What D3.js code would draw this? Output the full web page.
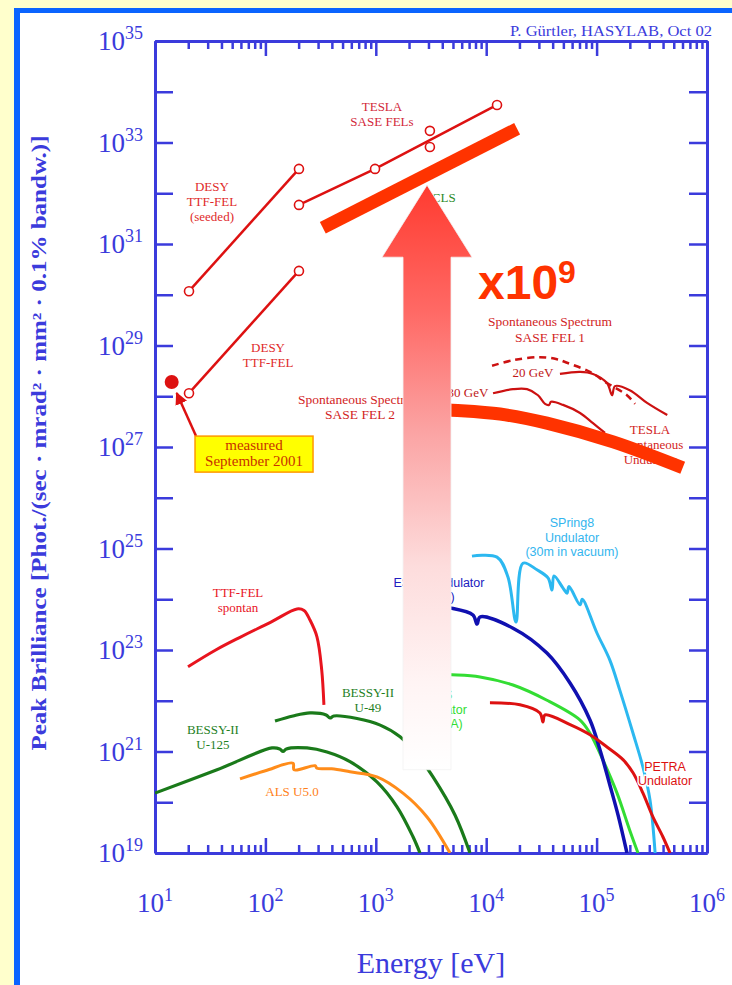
<!DOCTYPE html>
<html>
<head>
<meta charset="utf-8">
<script src="https://cdn.jsdelivr.net/npm/d3@7"></script>
<style>
  body { margin: 0; background: #ffffcc; }
  svg { display: block; }
</style>
</head>
<body>
<svg id="chart" width="732" height="985"></svg>
<script>
// all values are log10 exponents: [log10 energy (eV), log10 peak brilliance]
var xDecades = [1, 2, 3, 4, 5, 6];
var yDecades = d3.range(19, 36);
var yLabelDecades = [19, 21, 23, 25, 27, 29, 31, 33, 35];

var ttfSeeded = [[1.308, 30.07], [2.304, 32.48]];
var ttfFel = [[1.308, 28.06], [2.304, 30.47]];
var teslaLine = [[2.304, 31.77], [2.993, 32.48], [4.098, 33.74]];
var teslaPoints = [[2.304, 31.77], [2.993, 32.48], [3.49, 32.91], [3.49, 33.23], [4.098, 33.74]];
var measured = [1.151, 28.28];

var ttfSpontan = [[1.299, 22.67], [1.55, 23.0], [1.77, 23.25], [2.05, 23.55], [2.286, 23.81], [2.35, 23.78],
  [2.404, 23.59], [2.467, 23.26], [2.51, 22.61], [2.53, 21.92]];
var bessyU49 = [[2.087, 21.60], [2.25, 21.70], [2.404, 21.76], [2.55, 21.72], [2.585, 21.66], [2.62, 21.70],
  [2.83, 21.65], [3.04, 21.52], [3.22, 21.29], [3.38, 20.92], [3.518, 20.50], [3.717, 19.75], [3.853, 19.0]];
var bessyU125 = [[1.0, 20.18], [1.562, 20.64], [2.06, 21.07], [2.13, 21.05], [2.16, 21.0], [2.19, 21.05],
  [2.377, 21.07], [2.558, 20.99], [2.766, 20.80], [3.01, 20.40], [3.192, 19.91], [3.337, 19.32], [3.40, 19.0]];
var alsU50 = [[1.77, 20.46], [2.0, 20.62], [2.25, 20.77], [2.26, 20.64], [2.45, 20.72], [2.467, 20.67],
  [2.6, 20.66], [2.766, 20.60], [3.01, 20.50], [3.246, 20.18], [3.464, 19.71], [3.672, 19.0]];
var esrf = [[3.45, 23.88], [3.672, 23.83], [3.88, 23.69], [3.917, 23.51], [3.944, 23.65], [4.243, 23.43],
  [4.55, 22.94], [4.759, 22.35], [4.94, 21.62], [5.031, 21.03], [5.12, 20.34], [5.194, 19.75], [5.275, 19.0]];
var spring8 = [[3.871, 24.85], [4.098, 24.83], [4.197, 24.44], [4.27, 23.55], [4.333, 24.71], [4.46, 24.58],
  [4.56, 24.42], [4.596, 24.18], [4.614, 24.46], [4.696, 24.22], [4.732, 24.12], [4.75, 24.25],
  [4.85, 23.89], [4.87, 24.0], [5.004, 23.33], [5.12, 22.80], [5.21, 22.21], [5.33, 21.36],
  [5.42, 20.69], [5.484, 20.04], [5.53, 19.0]];
var aps = [[3.50, 22.52], [3.69, 22.51], [3.944, 22.47], [4.243, 22.31], [4.55, 22.01], [4.85, 21.62],
  [4.94, 21.36], [5.058, 20.83], [5.185, 20.18], [5.30, 19.45], [5.375, 19.0]];
var petra = [[4.034, 21.96], [4.306, 21.92], [4.487, 21.76], [4.514, 21.58], [4.533, 21.72], [4.76, 21.53],
  [4.94, 21.33], [5.094, 21.09], [5.239, 20.84], [5.33, 20.58], [5.42, 20.18], [5.51, 19.71],
  [5.60, 19.32], [5.665, 19.0]];
var sase1Solid = [[4.668, 28.44], [4.85, 28.48], [4.967, 28.44], [5.094, 28.26], [5.14, 28.02], [5.167, 28.20],
  [5.30, 28.12], [5.457, 27.87], [5.64, 27.63]];
var sase1Dashed = [[4.053, 28.60], [4.243, 28.71], [4.487, 28.77], [4.641, 28.73], [4.732, 28.66],
  [4.94, 28.48], [5.094, 28.26], [5.275, 28.02], [5.348, 27.85]];
var sase2 = [[4.062, 28.06], [4.243, 28.14], [4.37, 28.14], [4.469, 28.02], [4.533, 27.85], [4.57, 27.83],
  [4.587, 27.89], [4.696, 27.83], [4.85, 27.67], [4.967, 27.47], [5.076, 27.28]];

// overlay annotations
var upperBar = [[2.52, 31.32], [4.28, 33.27]];
var lowerBar = [[3.55, 27.75], [3.672, 27.73], [4.125, 27.65], [4.55, 27.47], [5.15, 27.10], [5.78, 26.59]];
var bigArrow = { e: 3.464, tip: 32.16, head: 30.74, foot: 20.64 };

// labels: [lines], energy exp, brilliance exp of first baseline, colour, family, size
var labels = [
  [["DESY", "TTF-FEL", "(seeded)"], 1.516, 32.04, "#e02a2a", "serif", 13],
  [["TESLA", "SASE FELs"], 3.056, 33.62, "#d2283a", "serif", 13],
  [["DESY", "TTF-FEL"], 2.024, 28.87, "#e02a2a", "serif", 13],
  [["Spontaneous Spectrum", "SASE FEL 1"], 4.578, 29.38, "#d21e1e", "serif", 13.5],
  [["Spontaneous Spectrum", "SASE FEL 2"], 2.857, 27.85, "#d21e1e", "serif", 13.5],
  [["20 GeV"], 4.424, 28.38, "#c01818", "serif", 13],
  [["30 GeV"], 3.835, 27.99, "#c01818", "serif", 13],
  [["TESLA", "Spontaneous", "Undulator"], 5.484, 27.26, "#d21e1e", "serif", 13],
  [["LCLS"], 3.58, 31.83, "#2a8a2a", "serif", 13],
  [["TTF-FEL", "spontan"], 1.752, 24.04, "#e8141e", "serif", 13],
  [["BESSY-II", "U-49"], 2.929, 22.07, "#1f7f1f", "serif", 13],
  [["BESSY-II", "U-125"], 1.525, 21.345, "#1f7f1f", "serif", 13],
  [["ALS U5.0"], 2.241, 20.12, "#ff7f1a", "serif", 13],
  [["ESRF Undulator", "(ID 9)"], 3.572, 24.24, "#2020c0", "sans-serif", 12.5],
  [["SPring8", "Undulator", "(30m in vacuum)"], 4.777, 25.42, "#33b5ee", "sans-serif", 12.5],
  [["APS", "Undulator", "(Und. A)"], 3.58, 22.03, "#33dd33", "sans-serif", 12.5],
  [["PETRA", "Undulator"], 5.62, 20.62, "#dd1111", "sans-serif", 12.5]
];
var measuredBox = { e: 1.897, b: 26.86, lines: ["measured", "September 2001"] };

var axisBlue = "#3b3bdc";
var serif = "'Liberation Serif', 'DejaVu Serif', serif";
var sans = "'Liberation Sans', Arial, sans-serif";

var svg = d3.select("#chart");

// page frame
svg.append("rect").attr("width", 732).attr("height", 985).attr("fill", "#ffffcc");
svg.append("rect").attr("x", 14).attr("y", 8).attr("width", 800).attr("height", 1000).attr("fill", "#0a64ff");
svg.append("rect").attr("x", 20).attr("y", 13).attr("width", 800).attr("height", 1000).attr("fill", "#ffffff");

var x = d3.scaleLog().domain([1e1, 1e6]).range([155, 707]);
var y = d3.scaleLog().domain([1e19, 1e35]).range([853, 41]);
function X(le) { return x(Math.pow(10, le)); }
function Y(lb) { return y(Math.pow(10, lb)); }

svg.append("clipPath").attr("id", "plotclip").append("rect")
  .attr("x", 155).attr("y", 41).attr("width", 552).attr("height", 812);

var minors = [];
xDecades.slice(0, -1).forEach(function(d) {
  for (var k = 2; k < 10; k++) minors.push(k * Math.pow(10, d));
});
var majors = xDecades.map(function(d) { return Math.pow(10, d); });
var yTicks = yDecades.map(function(d) { return Math.pow(10, d); });

function styleAxis(g) {
  g.selectAll("path").attr("stroke", axisBlue).attr("stroke-width", 3);
  g.selectAll("line").attr("stroke", axisBlue).attr("stroke-width", 2.5);
  g.selectAll("text").remove();
}

// x axes (bottom and top), ticks pointing inward
svg.append("g").attr("transform", "translate(0,853)")
  .call(d3.axisBottom(x).tickValues(majors).tickSize(-15).tickSizeOuter(0)).call(styleAxis);
svg.append("g").attr("transform", "translate(0,853)")
  .call(d3.axisBottom(x).tickValues(minors).tickSize(-8).tickSizeOuter(0)).call(styleAxis);
svg.append("g").attr("transform", "translate(0,41)")
  .call(d3.axisTop(x).tickValues(majors).tickSize(-15).tickSizeOuter(0)).call(styleAxis);
svg.append("g").attr("transform", "translate(0,41)")
  .call(d3.axisTop(x).tickValues(minors).tickSize(-8).tickSizeOuter(0)).call(styleAxis);
// y axes
svg.append("g").attr("transform", "translate(155,0)")
  .call(d3.axisLeft(y).tickValues(yTicks).tickSize(-18).tickSizeOuter(0)).call(styleAxis);
svg.append("g").attr("transform", "translate(707,0)")
  .call(d3.axisRight(y).tickValues(yTicks).tickSize(-18).tickSizeOuter(0)).call(styleAxis);

// tick labels
xDecades.forEach(function(d) {
  var t = svg.append("text").attr("x", X(d)).attr("y", 912)
    .attr("text-anchor", "middle").attr("fill", axisBlue)
    .style("font-family", serif).style("font-size", "27px");
  t.append("tspan").text("10");
  t.append("tspan").attr("dy", -11).style("font-size", "18px").text(d);
});
yLabelDecades.forEach(function(d) {
  var t = svg.append("text").attr("x", 143).attr("y", Y(d) + 9)
    .attr("text-anchor", "end").attr("fill", axisBlue)
    .style("font-family", serif).style("font-size", "27px");
  t.append("tspan").text("10");
  t.append("tspan").attr("dy", -11).style("font-size", "18px").text(d);
});

// axis titles
svg.append("text").attr("x", 431).attr("y", 973).attr("text-anchor", "middle")
  .attr("fill", axisBlue).style("font-family", serif).style("font-size", "30px")
  .text("Energy [eV]");
svg.append("text").attr("transform", "translate(46,443) rotate(-90)")
  .attr("text-anchor", "middle").attr("fill", axisBlue)
  .attr("textLength", 615).attr("lengthAdjust", "spacingAndGlyphs")
  .style("font-family", serif).style("font-size", "20px").style("font-weight", "bold")
  .text("Peak Brilliance [Phot./(sec \u00b7 mrad\u00b2 \u00b7 mm\u00b2 \u00b7 0.1% bandw.)]");
svg.append("text").attr("x", 712).attr("y", 36).attr("text-anchor", "end")
  .attr("fill", axisBlue).attr("textLength", 202).attr("lengthAdjust", "spacingAndGlyphs")
  .style("font-family", serif).style("font-size", "14px")
  .text("P. G\u00fcrtler, HASYLAB, Oct 02");

var plot = svg.append("g").attr("clip-path", "url(#plotclip)");

var smooth = d3.line().x(function(d) { return X(d[0]); }).y(function(d) { return Y(d[1]); })
  .curve(d3.curveCatmullRom.alpha(0.5));
var straight = d3.line().x(function(d) { return X(d[0]); }).y(function(d) { return Y(d[1]); });

var curves = [
  [bessyU125, "#1a7a1a", 3.2, null],
  [bessyU49, "#1a7a1a", 3.2, null],
  [alsU50, "#ff8c1a", 3, null],
  [ttfSpontan, "#e8141e", 3, null],
  [aps, "#33dd33", 3, null],
  [esrf, "#1010b0", 3.5, null],
  [spring8, "#2cb8f0", 3, null],
  [petra, "#dd1111", 3, null],
  [sase1Dashed, "#cc1111", 2.5, "7,5"],
  [sase1Solid, "#cc1111", 2.2, null],
  [sase2, "#cc1111", 2.2, null]
];
curves.forEach(function(c) {
  plot.append("path").datum(c[0]).attr("d", smooth)
    .attr("fill", "none").attr("stroke", c[1]).attr("stroke-width", c[2])
    .attr("stroke-dasharray", c[3]).attr("stroke-linejoin", "round");
});

// FEL lines with open circles
[ttfSeeded, ttfFel, teslaLine].forEach(function(l) {
  plot.append("path").datum(l).attr("d", straight)
    .attr("fill", "none").attr("stroke", "#dd1111").attr("stroke-width", 2.5);
});
plot.selectAll(".pt").data(ttfSeeded.concat(ttfFel, teslaPoints)).enter().append("circle")
  .attr("cx", function(d) { return X(d[0]); }).attr("cy", function(d) { return Y(d[1]); })
  .attr("r", 4.5).attr("fill", "#fff").attr("stroke", "#dd1111").attr("stroke-width", 1.6);

// labels
labels.forEach(function(l) {
  var t = svg.append("text").attr("x", X(l[1])).attr("y", Y(l[2]))
    .attr("text-anchor", "middle").attr("fill", l[3])
    .style("font-family", l[4] == "serif" ? serif : sans).style("font-size", l[5] + "px")
    .attr("stroke", "#fff").attr("stroke-width", 3).attr("paint-order", "stroke");
  l[0].forEach(function(s, i) {
    t.append("tspan").attr("x", X(l[1])).attr("dy", i == 0 ? 0 : "1.15em").text(s);
  });
});

// measured point, its note and pointer
var mx = X(measured[0]), my = Y(measured[1]);
svg.append("circle").attr("cx", mx).attr("cy", my).attr("r", 7).attr("fill", "#dd1111");
var bx = X(measuredBox.e), by = Y(measuredBox.b);
svg.append("defs").append("marker").attr("id", "ah").attr("viewBox", "0 0 10 10")
  .attr("refX", 9).attr("refY", 5).attr("markerWidth", 5).attr("markerHeight", 5)
  .attr("orient", "auto").append("path").attr("d", "M0,0L10,5L0,10z").attr("fill", "#dd1111");
svg.append("line").attr("x1", bx - 58).attr("y1", by - 18).attr("x2", mx + 5).attr("y2", my + 11)
  .attr("stroke", "#dd1111").attr("stroke-width", 2.5).attr("marker-end", "url(#ah)");
svg.append("rect").attr("x", bx - 59).attr("y", by - 18).attr("width", 118).attr("height", 36)
  .attr("fill", "#ffff00").attr("stroke", "#ff9900").attr("stroke-width", 1.5);
measuredBox.lines.forEach(function(s, i) {
  svg.append("text").attr("x", bx).attr("y", by - 4 + i * 16).attr("text-anchor", "middle")
    .attr("fill", "#c83200").style("font-family", serif).style("font-size", "15px").text(s);
});

// thick red overlay lines
svg.append("path").datum(upperBar).attr("d", straight)
  .attr("fill", "none").attr("stroke", "#ff3300").attr("stroke-width", 13);
svg.append("path").datum(lowerBar).attr("d", smooth)
  .attr("fill", "none").attr("stroke", "#ff3300").attr("stroke-width", 13);

// big gradient arrow
var grad = svg.select("defs").append("linearGradient").attr("id", "ag")
  .attr("x1", 0).attr("y1", 0).attr("x2", 0).attr("y2", 1);
[[0, "#ff3b30"], [0.22, "#ff6a66"], [0.42, "#fba3a3"], [0.65, "#fddcdc"], [0.85, "#fff4f4"], [1, "#ffffff"]]
  .forEach(function(s) { grad.append("stop").attr("offset", s[0]).attr("stop-color", s[1]); });
var ax = X(bigArrow.e), ty = Y(bigArrow.tip), hy = Y(bigArrow.head), fy = Y(bigArrow.foot);
svg.append("path")
  .attr("d", "M" + ax + "," + ty + "L" + (ax + 45) + "," + hy + "L" + (ax + 24) + "," + hy +
    "L" + (ax + 24) + "," + fy + "L" + (ax - 24) + "," + fy + "L" + (ax - 24) + "," + hy +
    "L" + (ax - 45) + "," + hy + "Z")
  .attr("fill", "url(#ag)").attr("stroke", "#f2f2f2").attr("stroke-width", 0.8);

// x10^9
var fx = X(3.926), fyy = Y(29.92);
var big = svg.append("text").attr("x", fx).attr("y", fyy).attr("fill", "#ff3300")
  .style("font-family", sans).style("font-weight", "bold").style("font-size", "48px");
big.append("tspan").text("x10");
big.append("tspan").attr("dy", -16).style("font-size", "32px").text("9");
</script>
</body>
</html>
